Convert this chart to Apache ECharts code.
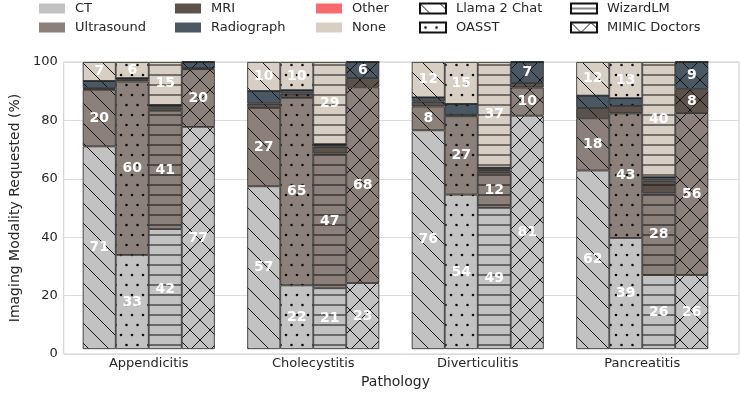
<!DOCTYPE html>
<html>
<head>
<meta charset="utf-8">
<script src="https://cdn.jsdelivr.net/npm/echarts@6/dist/echarts.min.js"></script>
<style>html,body{margin:0;padding:0;background:#fff;}#c{width:740px;height:394px;}</style>
</head>
<body>
<div id="c"></div>
<script>
// ---- data ----
var categories = ['Appendicitis', 'Cholecystitis', 'Diverticulitis', 'Pancreatitis'];
var models = ['Llama 2 Chat', 'OASST', 'WizardLM', 'MIMIC Doctors'];
var modalities = ['CT', 'Ultrasound', 'MRI', 'Radiograph', 'Other', 'None'];
var yTicks = [0, 20, 40, 60, 80, 100];

// values (%) per modality, one entry per category
var llamaCT = [70.6, 56.7, 76.2, 62.2];
var llamaUltrasound = [19.7, 27.3, 8.3, 18.2];
var llamaMRI = [0.6, 1.5, 1.7, 3.6];
var llamaRadiograph = [2.5, 4.4, 1.5, 4.3];
var llamaOther = [0, 0, 0, 0];
var llamaNone = [6.6, 10.1, 12.3, 11.7];

var oasstCT = [32.8, 22.2, 53.8, 38.7];
var oasstUltrasound = [60.4, 65.3, 27.3, 43.4];
var oasstMRI = [0.6, 1.5, 0.5, 2.6];
var oasstRadiograph = [0.6, 1.2, 3.8, 2.7];
var oasstOther = [0, 0, 0, 0];
var oasstNone = [5.6, 9.8, 14.6, 12.6];

var wizardCT = [41.8, 21.2, 49.2, 25.8];
var wizardUltrasound = [41.2, 46.9, 12.2, 28.4];
var wizardMRI = [1.2, 2.4, 1.0, 4.5];
var wizardRadiograph = [0.8, 0.9, 0.8, 1.2];
var wizardOther = [0, 0, 0, 0];
var wizardNone = [15.0, 28.6, 36.8, 40.1];

var mimicCT = [77.4, 23.0, 81.3, 25.8];
var mimicUltrasound = [20.1, 68.2, 9.8, 56.4];
var mimicMRI = [0.3, 3.2, 1.6, 8.4];
var mimicRadiograph = [2.2, 5.6, 7.3, 9.4];
var mimicOther = [0, 0, 0, 0];
var mimicNone = [0, 0, 0, 0];

var modelData = [
  [llamaCT, llamaUltrasound, llamaMRI, llamaRadiograph, llamaOther, llamaNone],
  [oasstCT, oasstUltrasound, oasstMRI, oasstRadiograph, oasstOther, oasstNone],
  [wizardCT, wizardUltrasound, wizardMRI, wizardRadiograph, wizardOther, wizardNone],
  [mimicCT, mimicUltrasound, mimicMRI, mimicRadiograph, mimicOther, mimicNone]
];

// ---- styles ----
var modalityColors = ['#c2c2c2', '#8b807a', '#5b534b', '#4a5863', '#f86a6e', '#d8cfc4'];
var hatchTypes = ['diag', 'dots', 'hline', 'cross'];
var FONT = 'DejaVu Sans';
var TXT = '#262626';

function makePattern(bg, type) {
  var c = document.createElement('canvas');
  var w = 20, h = 20;
  if (type === 'hline') { w = 10; h = 10; }
  if (type === 'dots') { w = 22; h = 20; }
  c.width = w; c.height = h;
  var ctx = c.getContext('2d');
  ctx.fillStyle = bg; ctx.fillRect(0, 0, w, h);
  ctx.strokeStyle = '#111'; ctx.fillStyle = '#111'; ctx.lineWidth = 1;
  function ln(x1, y1, x2, y2) { ctx.beginPath(); ctx.moveTo(x1, y1); ctx.lineTo(x2, y2); ctx.stroke(); }
  if (type === 'diag' || type === 'cross') {
    ln(-5, -5, 25, 25); ln(15, -5, 25, 5); ln(-5, 15, 5, 25);
  }
  if (type === 'cross') {
    ln(-5, 25, 25, -5); ln(-5, 5, 5, -5); ln(15, 25, 25, 15);
  }
  if (type === 'hline') {
    ln(0, 5, w, 5);
  }
  if (type === 'dots') {
    var pts = [[5.5, 5], [16.5, 5], [0, 15], [11, 15], [22, 15]];
    pts.forEach(function (p) { ctx.beginPath(); ctx.arc(p[0], p[1], 1.3, 0, Math.PI * 2); ctx.fill(); });
  }
  return { image: c, repeat: 'repeat' };
}

var series = [];
// dummy legend series on the frame grid
modalities.forEach(function (m, i) {
  series.push({ name: m, type: 'bar', xAxisIndex: 0, yAxisIndex: 0, data: [],
    itemStyle: { color: modalityColors[i], borderWidth: 0 } });
});
models.forEach(function (m, i) {
  series.push({ name: m, type: 'bar', xAxisIndex: 0, yAxisIndex: 0, data: [],
    itemStyle: { color: makePattern('#ffffff', hatchTypes[i]), borderColor: '#111', borderWidth: 1 } });
});
// real stacked bars
models.forEach(function (model, mi) {
  modalities.forEach(function (mod, ki) {
    series.push({
      name: model + ' - ' + mod,
      type: 'bar',
      xAxisIndex: 1, yAxisIndex: 1,
      stack: model,
      barWidth: 33,
      barGap: '0%',
      barCategoryGap: '20%',
      data: modelData[mi][ki],
      itemStyle: { color: makePattern(modalityColors[ki], hatchTypes[mi]), borderColor: '#222', borderWidth: 0.8 },
      label: {
        show: true, position: 'inside', color: '#fff', fontFamily: FONT, fontWeight: 'bold', fontSize: 14,
        formatter: function (p) { return p.value >= 5 ? String(Math.round(p.value)) : ''; }
      },
      emphasis: { disabled: true }
    });
  });
});

var legendCols = [
  [modalities[0], modalities[1]],
  [modalities[2], modalities[3]],
  [modalities[4], modalities[5]],
  [models[0], models[1]],
  [models[2], models[3]]
];
var legendLeft = [34, 170, 311, 414, 565];
var legends = legendCols.map(function (d, i) {
  return {
    data: d, orient: 'vertical', left: legendLeft[i], top: -3,
    itemWidth: 26, itemHeight: 10, itemGap: 6, icon: 'rect',
    selectedMode: false,
    textStyle: { fontFamily: FONT, fontSize: 13, color: TXT, padding: [0, 0, 0, 5] }
  };
});

var option = {
  animation: false,
  backgroundColor: '#fff',
  legend: legends,
  grid: [
    { left: 52, right: 1, top: 62, bottom: 40, show: true, borderColor: '#cccccc', borderWidth: 1, backgroundColor: 'transparent' },
    { left: 66.5, right: 15.5, top: 62, bottom: 40 }
  ],
  xAxis: [
    { type: 'category', gridIndex: 0, data: ['x'], show: false },
    { type: 'category', gridIndex: 1, data: categories,
      axisLine: { show: false }, axisTick: { show: false },
      axisLabel: { fontFamily: FONT, fontSize: 13, color: TXT, margin: 8 },
      name: 'Pathology', nameLocation: 'middle', nameGap: 25,
      nameTextStyle: { fontFamily: FONT, fontSize: 14, color: TXT } }
  ],
  yAxis: [
    { type: 'value', gridIndex: 0, min: yTicks[0], max: yTicks[yTicks.length - 1], interval: 20,
      axisLine: { show: false }, axisTick: { show: false },
      axisLabel: { fontFamily: FONT, fontSize: 13, color: TXT, margin: 6 },
      splitLine: { lineStyle: { color: '#dcdcdc', width: 1 } },
      name: 'Imaging Modality Requested (%)', nameLocation: 'middle', nameGap: 33,
      nameTextStyle: { fontFamily: FONT, fontSize: 14, color: TXT } },
    { type: 'value', gridIndex: 1, min: 0, max: 100, interval: 20, show: false, splitLine: { show: false } }
  ],
  series: series
};

var chart = echarts.init(document.getElementById('c'), null, { renderer: 'canvas' });
chart.setOption(option);
</script>
</body>
</html>
